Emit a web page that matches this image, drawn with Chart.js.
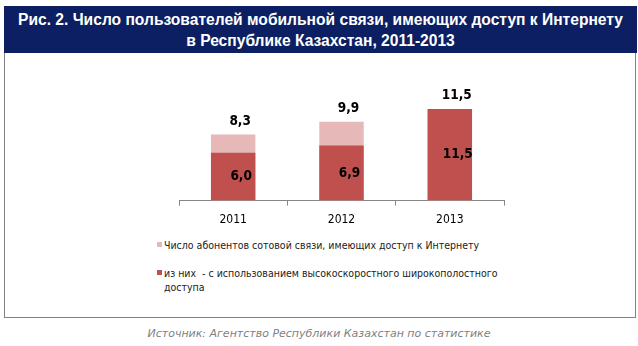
<!DOCTYPE html>
<html>
<head>
<meta charset="utf-8">
<script src="https://cdn.jsdelivr.net/npm/chart.js@4"></script>
<style>
  body { margin: 0; background: #fff; width: 638px; height: 346px; position: relative; overflow: hidden; }
  #banner { position: absolute; left: 4px; top: 6px; width: 633px; height: 47px; background: #0b1f62; color: #fff;
    font: bold 15.6px "Liberation Sans", sans-serif; text-align: center; line-height: 21px; padding-top: 3px; box-sizing: border-box; }
  #box { position: absolute; left: 4px; top: 53px; width: 630px; height: 264px; border: 1px solid #808080; border-top: none; box-sizing: content-box; }
  #chartWrap { position: absolute; left: 0; top: 57px; width: 638px; height: 180px; }
  .legend { position: absolute; left: 157px; font: 10.5px "DejaVu Sans Condensed", "DejaVu Sans", sans-serif; color: #222; line-height: 14px; }
  .legend i { position: absolute; left: 0; top: 4px; width: 5px; height: 5px; }
  .legend span { display: block; margin-left: 7px; }
  #source { position: absolute; left: 0; width: 638px; top: 327px; text-align: center; color: #7f7f7f;
    font: italic 11px "DejaVu Sans", sans-serif; }
</style>
</head>
<body>
<div id="banner">Рис. 2. Число пользователей мобильной связи, имеющих доступ к Интернету<br>в Республике Казахстан, 2011-2013</div>
<div id="box"></div>
<div id="chartWrap"><canvas id="resultsChart" width="638" height="180"></canvas></div>
<div class="legend" style="top:238px"><i style="background:#e6b9b8"></i><span>Число абонентов сотовой связи, имеющих доступ к Интернету</span></div>
<div class="legend" style="top:266px"><i style="background:#c0504d"></i><span>из них&nbsp; - с использованием высокоскоростного широкополостного<br>доступа</span></div>
<div id="source">Источник: Агентство Республики Казахстан по статистике</div>
<script>
const years = ['2011', '2012', '2013'];
const totalUsers = [8.3, 9.9, 11.5];
const broadbandUsers = [6.0, 6.9, 11.5];

const fmt = v => v.toFixed(1).replace('.', ',');

// labels: totals above the bars, broadband inside the dark part
const valueLabels = {
  id: 'valueLabels',
  afterDatasetsDraw(chart) {
    const c = chart.ctx;
    c.save();
    c.font = 'bold 13.5px "DejaVu Sans Condensed", "DejaVu Sans", sans-serif';
    c.fillStyle = '#000';
    c.textAlign = 'center';
    c.textBaseline = 'middle';
    const light = chart.getDatasetMeta(1).data;
    const dark = chart.getDatasetMeta(0).data;
    light.forEach((bar, i) => {
      c.fillText(fmt(totalUsers[i]), bar.x + 7, bar.y - 13);
    });
    dark.forEach((bar, i) => {
      c.fillText(fmt(broadbandUsers[i]), bar.x + 8, (bar.y + bar.base) / 2);
    });
    c.restore();
  }
};

const ctx = document.getElementById('resultsChart').getContext('2d');
let resultsChart = new Chart(ctx, {
  type: 'bar',
  data: {
    labels: years,
    datasets: [{
      label: 'из них - с использованием высокоскоростного широкополостного доступа',
      data: broadbandUsers,
      backgroundColor: '#c0504d',
      order: 1
    }, {
      label: 'Число абонентов сотовой связи, имеющих доступ к Интернету',
      data: totalUsers,
      backgroundColor: '#e6b9b8',
      order: 2
    }]
  },
  options: {
    responsive: false,
    animation: false,
    barPercentage: 0.41,
    categoryPercentage: 1,
    layout: { padding: { left: 179, right: 134, top: 32, bottom: 3 } },
    plugins: { legend: { display: false }, tooltip: { enabled: false } },
    scales: {
      x: {
        stacked: true,
        border: { color: '#868686' },
        grid: { drawOnChartArea: false, color: '#868686', tickLength: 5 },
        ticks: { color: '#000', padding: 7, font: { family: '"DejaVu Sans Condensed", "DejaVu Sans", sans-serif', size: 12 } }
      },
      y: {
        display: false,
        stacked: false,
        min: 0,
        max: 14
      }
    }
  },
  plugins: [valueLabels]
});
</script>
</body>
</html>
